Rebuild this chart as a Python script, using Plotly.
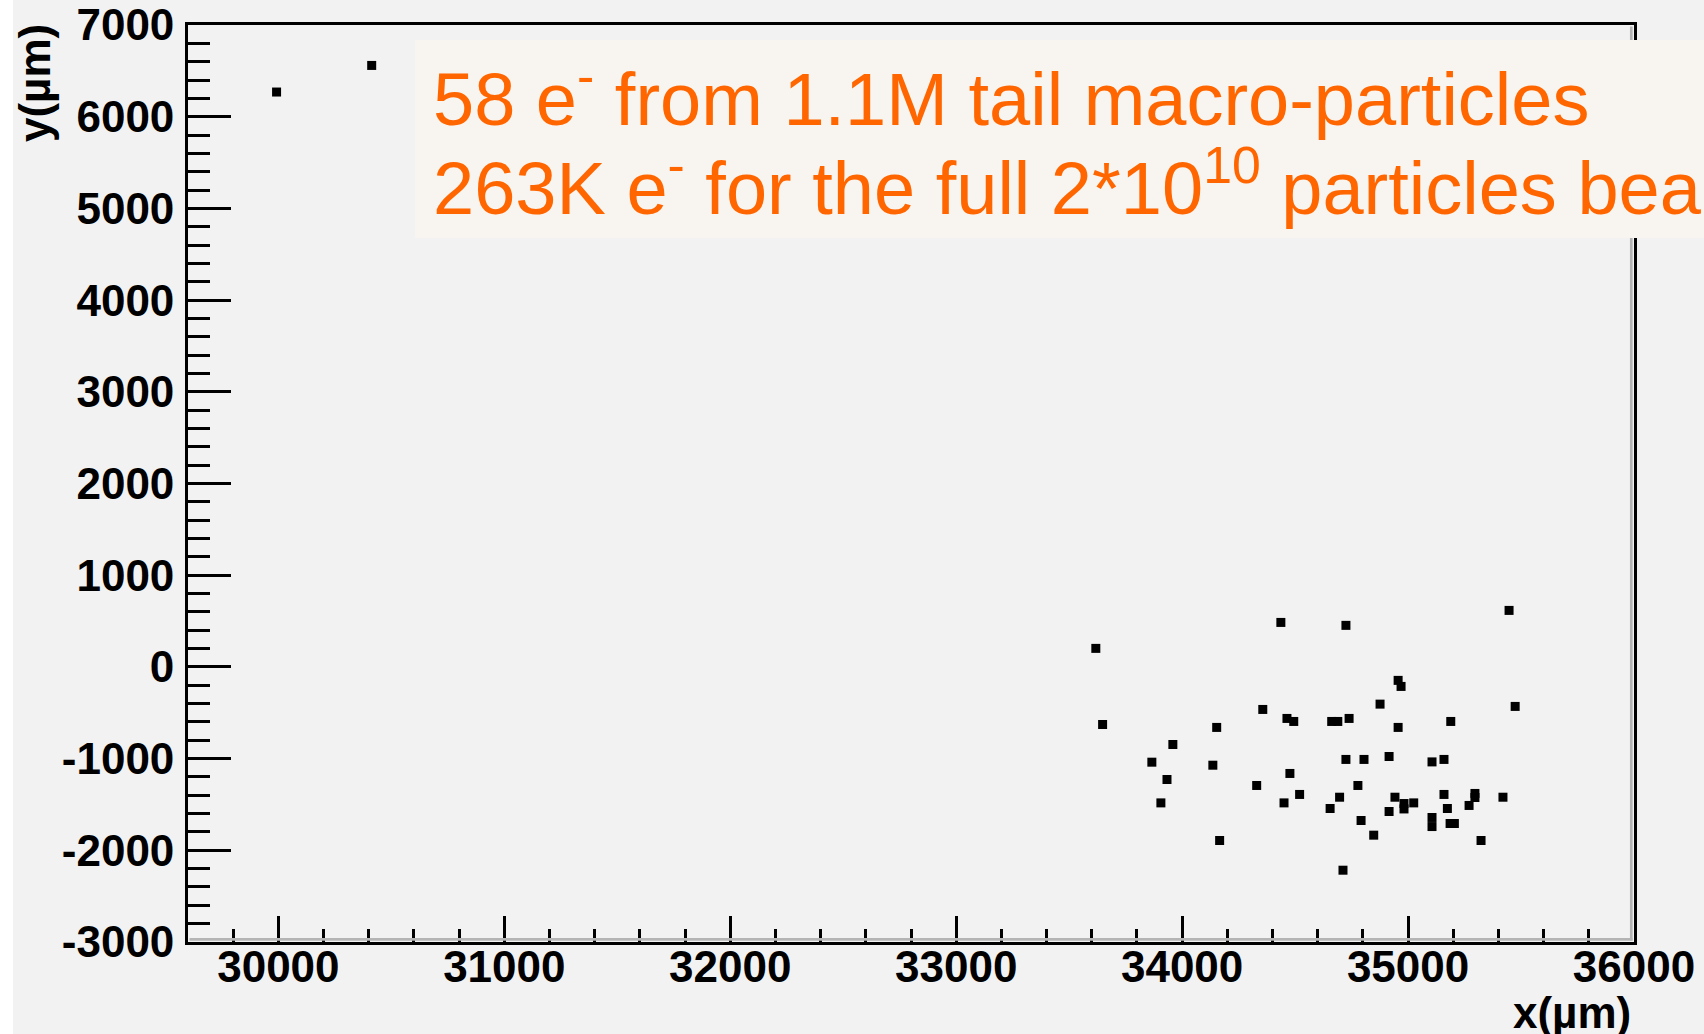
import plotly.graph_objects as go

# Electron positions at the detector plane (micrometres)
x_um = [29992, 30413,
        33618, 33648, 33866, 33906, 33933, 33959, 34136, 34153, 34166, 34330,
        34357, 34437, 34451, 34464, 34477, 34494, 34520, 34655, 34662, 34689,
        34697, 34712, 34725, 34725, 34739, 34778, 34792, 34805, 34848, 34876,
        34916, 34916, 34942, 34956, 34956, 34969, 34982, 34982, 35025, 35106,
        35106, 35106, 35159, 35159, 35174, 35186, 35189, 35205, 35270, 35296,
        35296, 35323, 35420, 35447, 35474]
y_um = [6269, 6559,
        202, -628, -1039, -1483, -1228, -846, -1072, -660, -1893, -1293,
        -464, 485, -1483, -562, -1162, -595, -1391, -1544, -595, -595,
        -1421, -2217, 453, -1009, -562, -1293, -1675, -1009, -1835, -406,
        -977, -1577, -1421, -147, -660, -213, -1490, -1549, -1483, -1036,
        -1642, -1741, -1009, -1391, -1544, -1708, -595, -1708, -1511, -1380,
        -1424, -1893, -1421, 616, -431]

x_ticks = [30000, 31000, 32000, 33000, 34000, 35000, 36000]
x_tick_text = ["30000", "31000", "32000", "33000", "34000", "35000", "36000"]
y_ticks = [-3000, -2000, -1000, 0, 1000, 2000, 3000, 4000, 5000, 6000, 7000]
y_tick_text = ["-3000", "-2000", "-1000", "0", "1000", "2000", "3000",
               "4000", "5000", "6000", "7000"]

x_title = "x(\u00b5m)"
y_title = "y(\u00b5m)"
note_line1 = "58 e<sup>-</sup> from 1.1M tail macro-particles"
note_line2 = "263K e<sup>-</sup> for the full 2*10<sup>10</sup> particles beam"

W, H = 1704, 1034
ML, MR, MT, MB = 188, 70, 25, 92
PW, PH = W - ML - MR, H - MT - MB


def px(xp):
    return (xp - ML) / PW


def py(yp):
    return (H - MB - yp) / PH


BG = "#f2f2f2"
ORANGE = "#ff6600"
LW = 2.7

fig = go.Figure()
fig.add_trace(go.Scatter(
    x=x_um, y=y_um, mode="markers",
    marker=dict(symbol="square", size=9, color="black", line=dict(width=0)),
    hoverinfo="skip", showlegend=False,
))

tick_font = dict(family="Liberation Sans, Arial, sans-serif", size=44,
                 color="black", weight="bold")

fig.update_xaxes(
    range=[29600, 36000], tickvals=x_ticks, ticktext=x_tick_text,
    ticks="inside", ticklen=26, tickwidth=LW, tickcolor="black",
    minor=dict(ticks="inside", dtick=200, tick0=0, ticklen=13,
               tickwidth=LW, tickcolor="black", showgrid=False),
    showline=True, linewidth=LW, linecolor="black", mirror=True,
    showgrid=False, zeroline=False, tickfont=tick_font,
    ticklabelstandoff=-16, automargin=False,
)
fig.update_yaxes(
    range=[-3000, 7000], tickvals=y_ticks, ticktext=y_tick_text,
    ticks="inside", ticklen=43, tickwidth=LW, tickcolor="black",
    minor=dict(ticks="inside", dtick=200, tick0=0, ticklen=22,
               tickwidth=LW, tickcolor="black", showgrid=False),
    showline=True, linewidth=LW, linecolor="black", mirror=True,
    showgrid=False, zeroline=False, tickfont=tick_font,
    ticklabelstandoff=2, automargin=False,
)

shapes = [
    # narrow white strip along the left edge
    dict(type="rect", xref="paper", yref="paper", layer="below",
         x0=px(0), x1=px(13), y0=py(H), y1=py(0),
         fillcolor="white", line=dict(width=0)),
    # frame shadow inside the bottom and right edges
    dict(type="line", xref="paper", yref="paper", layer="above",
         x0=px(ML + 1.5), x1=px(W - MR - 1.5),
         y0=py(H - MB - LW), y1=py(H - MB - LW),
         line=dict(color="#b4b4b4", width=LW)),
    dict(type="line", xref="paper", yref="paper", layer="above",
         x0=px(W - MR - LW), x1=px(W - MR - LW),
         y0=py(MT + 1.5), y1=py(H - MB - 1.5),
         line=dict(color="#b4b4b4", width=LW)),
    # note panel
    dict(type="rect", xref="paper", yref="paper", layer="above",
         x0=px(415), x1=px(W + 20), y0=py(238), y1=py(40),
         fillcolor="#f8f5f1", line=dict(width=0)),
]

note_font = dict(family="Liberation Sans, Arial, sans-serif", size=74,
                 color=ORANGE)
title_font = dict(family="Liberation Sans, Arial, sans-serif", size=44,
                  color="black", weight="bold")

annotations = [
    dict(text=note_line1, xref="paper", yref="paper", x=px(431), y=py(94),
         xanchor="left", yanchor="middle", showarrow=False, font=note_font),
    dict(text=note_line2, xref="paper", yref="paper", x=px(431), y=py(183),
         xanchor="left", yanchor="middle", showarrow=False, font=note_font),
    dict(text=x_title, xref="paper", yref="paper", x=px(1633), y=py(1013),
         xanchor="right", yanchor="middle", showarrow=False, font=title_font),
    dict(text=y_title, xref="paper", yref="paper", x=px(34), y=py(22),
         xanchor="center", yanchor="top", textangle=-90, showarrow=False,
         font=title_font),
]

fig.update_layout(
    width=W, height=H,
    margin=dict(l=ML, r=MR, t=MT, b=MB, pad=0),
    paper_bgcolor=BG, plot_bgcolor=BG,
    shapes=shapes, annotations=annotations,
    showlegend=False, hovermode=False,
)

fig.write_html("out.html", config=dict(displayModeBar=False))
